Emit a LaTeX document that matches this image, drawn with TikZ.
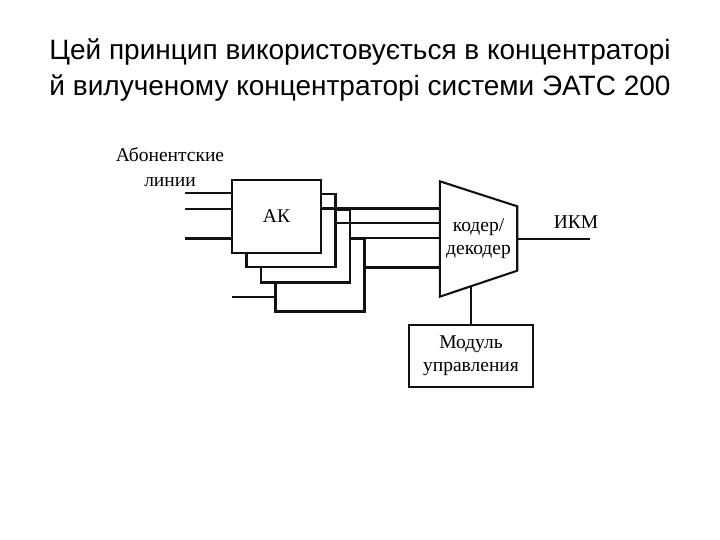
\documentclass[tikz,border=0pt]{standalone}
\usepackage{fontspec}
\setmainfont{Liberation Serif}
\newfontfamily\titlefont{Liberation Sans}
\usetikzlibrary{calc, positioning}
\definecolor{ink}{HTML}{111111}
\tikzset{el/.style={line cap=butt, line join=miter}}

\begin{document}
\begin{tikzpicture}[el, x=1pt, y=-1pt,
     card/.style={draw=ink, line width=2.1pt, fill=white, minimum width=89pt,
        minimum height=73pt, inner sep=0pt, font=\fontsize{19.5}{22}\selectfont},
     wire/.style={ink, line width=2.1pt},
     bus/.style={ink, line width=3pt},
     lbl/.style={font=\fontsize{19.5}{23}\selectfont, align=center, inner sep=0pt}]
     \useasboundingbox (0,0) rectangle (720,540);
     \node[font=\titlefont\fontsize{28}{36}\selectfont, align=center] (title) at (360,70)
        {Цей принцип використовується в концентраторі\\й вилученому концентраторі системи ЭАТС 200};
     % line cards, back to front
     \node[card] (ak4) at (320,275) {};
     \node[card] (ak3) at (305.5,246) {};
     \node[card] (ak2) at (291,230.5) {};
     \node[card] (ak1) at (276.5,216.5) {АК};
     \node[lbl, font=\fontsize{19.5}{25}\selectfont] (subs) at (170,167) {Абонентские\\линии};
     \coordinate (in1) at (185,193);\coordinate (in2) at (185,209);
     \coordinate (in3) at (185,238);\coordinate (in4) at (232,297);
     \draw[wire] (in1)--(in1 -| ak1.west);\draw[wire] (in2)--(in2 -| ak1.west);
     \draw[bus] (in3)--(in3 -| ak1.west);\draw[wire] (in4)--(in4 -| ak4.west);
     % codec
     \node[lbl, minimum width=77pt, minimum height=115pt] (coder) at (478.5,239) {кодер/\\декодер};
     \coordinate (cne) at ($(coder.north east)+(0,25)$);
     \coordinate (cse) at ($(coder.south east)+(0,-26)$);
     \draw[wire] (coder.north west)--(cne)--(cse)--(coder.south west)--cycle;
     \foreach \y/\src/\sty in {209/ak1/bus, 223/ak2/wire, 238/ak3/wire, 267/ak4/bus}
        \draw[\sty] (\src.east |- 0,\y)--(coder.west |- 0,\y);
     \coordinate (pcm) at (590,239);
     \draw[wire] (coder.east)--(pcm);
     \node[lbl] (pcmlbl) at (576,222) {ИКМ};
     % control
     \node[card, lbl, minimum width=124pt, minimum height=62pt] (ctrl) at (471,356) {Модуль\\управления};
     \coordinate (cfoot) at ($(coder.south west)!0.403!(cse)$);
     \draw[wire] (ctrl.north)--(ctrl.north |- cfoot);
  \end{tikzpicture}
\end{document}
